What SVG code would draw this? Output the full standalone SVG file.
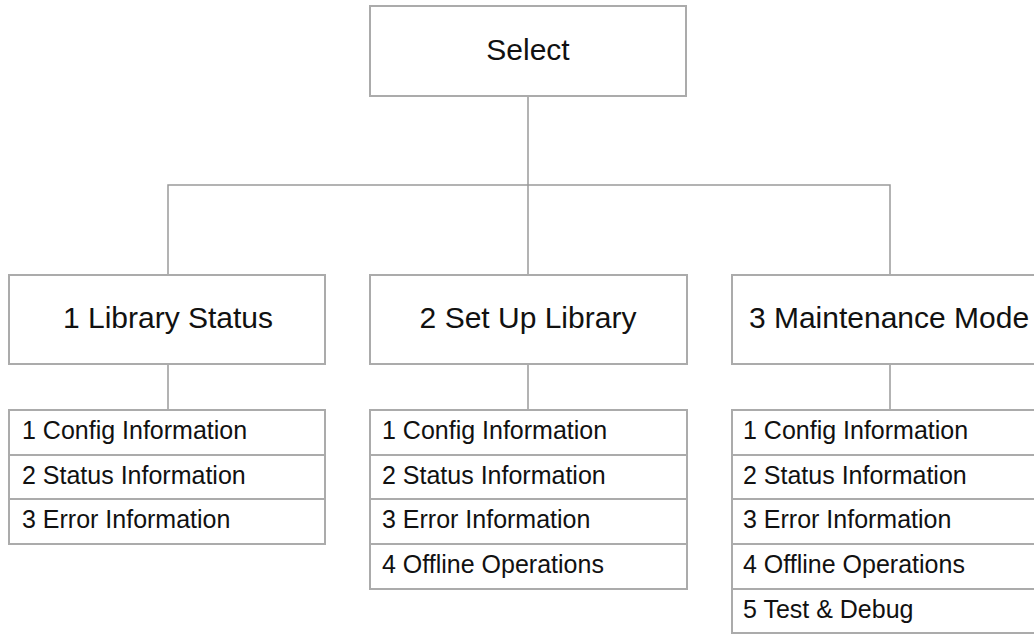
<svg xmlns="http://www.w3.org/2000/svg" width="1034" height="634" viewBox="0 0 1034 634">
<style>
.box{fill:#ffffff;stroke:#ababab;stroke-width:2}
.conn{fill:none;stroke:#9a9a9a;stroke-width:1.5}
.t1{font-family:"Liberation Sans",Arial,sans-serif;font-size:30px;fill:#111;text-anchor:middle}
.t2{font-family:"Liberation Sans",Arial,sans-serif;font-size:25px;fill:#111}
</style>
<rect width="1034" height="634" fill="#ffffff"/>
<g id="connectors">
<path class="conn" d="M528 96 V275 M168 275 V185 H890 V275"/>
<path class="conn" d="M168 364 V410 M528 364 V410 M890 364 V410"/>
</g>
<g id="select">
<rect class="box" x="370" y="6" width="316" height="90"/>
<text class="t1" x="528" y="60">Select</text>
</g>
<g id="library-status">
<rect class="box" x="9" y="275" width="316" height="89"/>
<text class="t1" x="168" y="328">1 Library Status</text>
</g>
<g id="set-up-library">
<rect class="box" x="370" y="275" width="317" height="89"/>
<text class="t1" x="528" y="328">2 Set Up Library</text>
</g>
<g id="maintenance-mode">
<rect class="box" x="732" y="275" width="316" height="89"/>
<text class="t1" x="889" y="328">3 Maintenance Mode</text>
</g>
<g id="list-library-status">
<rect class="box" x="9" y="410" width="316" height="45"/>
<rect class="box" x="9" y="455" width="316" height="44"/>
<rect class="box" x="9" y="499" width="316" height="45"/>
<text class="t2" x="22" y="439">1 Config Information</text>
<text class="t2" x="22" y="484">2 Status Information</text>
<text class="t2" x="22" y="528">3 Error Information</text>
</g>
<g id="list-set-up-library">
<rect class="box" x="370" y="410" width="317" height="45"/>
<rect class="box" x="370" y="455" width="317" height="44"/>
<rect class="box" x="370" y="499" width="317" height="45"/>
<rect class="box" x="370" y="544" width="317" height="45"/>
<text class="t2" x="382" y="439">1 Config Information</text>
<text class="t2" x="382" y="484">2 Status Information</text>
<text class="t2" x="382" y="528">3 Error Information</text>
<text class="t2" x="382" y="573">4 Offline Operations</text>
</g>
<g id="list-maintenance-mode">
<rect class="box" x="732" y="410" width="316" height="45"/>
<rect class="box" x="732" y="455" width="316" height="44"/>
<rect class="box" x="732" y="499" width="316" height="45"/>
<rect class="box" x="732" y="544" width="316" height="45"/>
<rect class="box" x="732" y="589" width="316" height="44"/>
<text class="t2" x="743" y="439">1 Config Information</text>
<text class="t2" x="743" y="484">2 Status Information</text>
<text class="t2" x="743" y="528">3 Error Information</text>
<text class="t2" x="743" y="573">4 Offline Operations</text>
<text class="t2" x="743" y="618">5 Test &amp; Debug</text>
</g>
</svg>
